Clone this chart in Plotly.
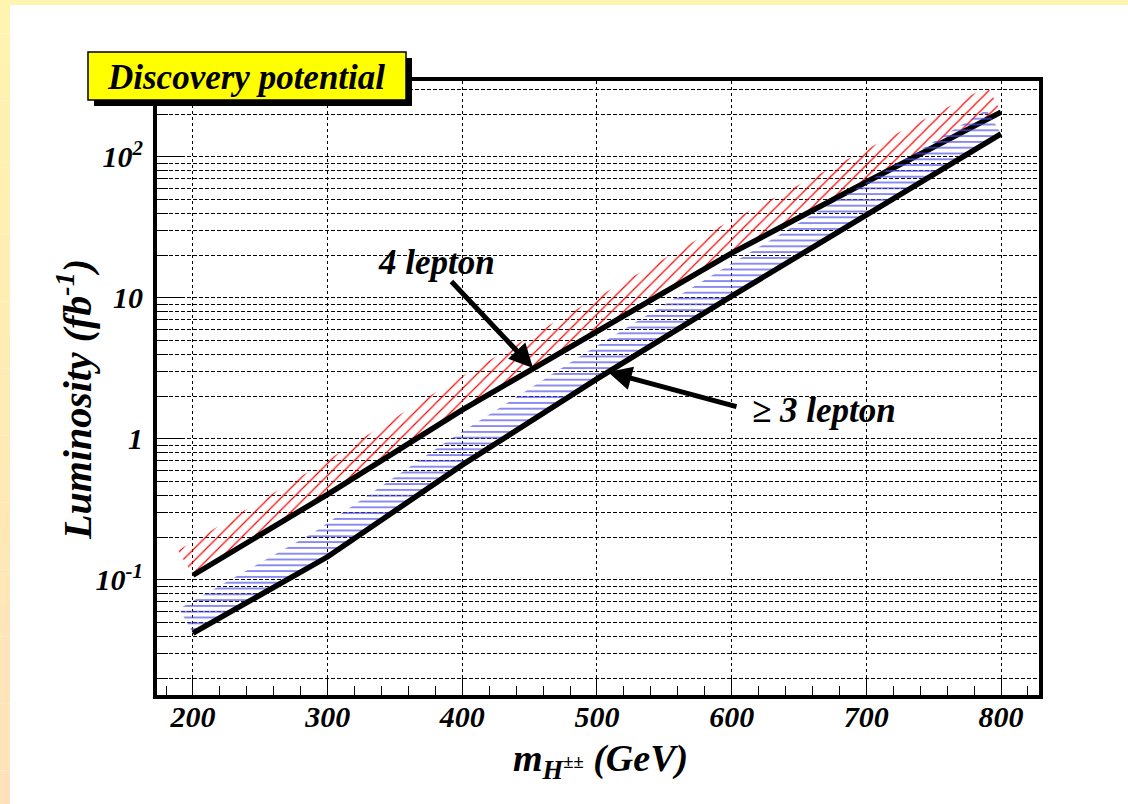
import numpy as np
import plotly.graph_objects as go

# ---------------- data ----------------
mass = [200, 300, 400, 500, 600, 700, 800]                 # m_H++ (GeV)
lumi_4lepton = [0.108, 0.405, 1.61, 5.84, 20.8, 66.5, 208]  # fb^-1
lumi_3lepton = [0.042, 0.146, 0.655, 2.67, 10.3, 38.8, 146]  # fb^-1

x_tickvals = [200, 300, 400, 500, 600, 700, 800]
y_tickvals = [0.1, 1, 10, 100]
y_ticktext = ["10<sup>-1</sup>", "1", "10", "10<sup>2</sup>"]

title_text = "Discovery potential"
label_4 = "4 lepton"
label_3 = "≥ 3 lepton"

# ---------------- layout geometry ----------------
W, H = 1128, 804
L, R, T, B = 157, 89, 81, 109
XR = [173.3, 828.2]
YR = [-1.816, 2.539]          # log10 range
PW, PH = W - L - R, H - T - B
SX = PW / (XR[1] - XR[0])     # px per GeV
SY = PH / (YR[1] - YR[0])     # px per decade

FONT = "Liberation Serif, Times New Roman, Times, serif"


def px2paper(px, py):
    return (px - L) / PW, (H - B - py) / PH


def hatch_band(xs, ys, width_px):
    """Polygon of a band of constant pixel width on the upper-left side of a curve."""
    P = np.stack([np.asarray(xs, float) * SX, np.log10(np.asarray(ys, float)) * SY], 1)
    d = np.diff(P, axis=0)
    d /= np.linalg.norm(d, axis=1, keepdims=True)
    nseg = np.stack([-d[:, 1], d[:, 0]], 1)
    normals = []
    n = len(P)
    for i in range(n):
        if i == 0:
            nn = nseg[0]
        elif i == n - 1:
            nn = nseg[-1]
        else:
            m = nseg[i - 1] + nseg[i]
            m /= np.linalg.norm(m)
            nn = m / np.dot(m, nseg[i])
        normals.append(nn)
    Q = P + width_px * np.array(normals)
    poly = np.vstack([P, Q[::-1], P[:1]])
    return poly[:, 0] / SX, 10 ** (poly[:, 1] / SY)


fig = go.Figure()

bx, by = hatch_band(mass, lumi_4lepton, 29)
fig.add_trace(go.Scatter(
    x=bx, y=by, mode="lines", fill="toself",
    line=dict(width=0, color="rgba(0,0,0,0)"),
    fillcolor="rgba(255,255,255,0)",
    fillpattern=dict(shape="/", fgcolor="#ff0000", bgcolor="rgba(255,255,255,0)",
                     size=8.5, solidity=0.14, fillmode="replace"),
    hoverinfo="skip", showlegend=False))
fig.add_trace(go.Scatter(x=mass, y=lumi_4lepton, mode="lines",
                         line=dict(color="black", width=5.5), showlegend=False))

bx, by = hatch_band(mass, lumi_3lepton, 28)
fig.add_trace(go.Scatter(
    x=bx, y=by, mode="lines", fill="toself",
    line=dict(width=0, color="rgba(0,0,0,0)"),
    fillcolor="rgba(255,255,255,0)",
    fillpattern=dict(shape="-", fgcolor="#4d4de8", bgcolor="rgba(255,255,255,0)",
                     size=5.8, solidity=0.22, fillmode="replace"),
    hoverinfo="skip", showlegend=False))
fig.add_trace(go.Scatter(x=mass, y=lumi_3lepton, mode="lines",
                         line=dict(color="black", width=5.5), showlegend=False))

minor_y = [k * 10.0 ** e for e in range(-2, 3) for k in range(2, 10)
           if YR[0] <= np.log10(k * 10.0 ** e) <= YR[1]]

tickfont = dict(family=FONT, size=30, color="black", weight="bold", style="italic")

fig.update_layout(
    width=W, height=H,
    margin=dict(l=L, r=R, t=T, b=B, pad=0),
    paper_bgcolor="white", plot_bgcolor="white",
    showlegend=False,
    xaxis=dict(range=XR, tickvals=x_tickvals, ticks="inside", ticklen=18, tickwidth=1.2,
               tickcolor="black", showline=True, linecolor="black", linewidth=4, mirror=True,
               showgrid=True, gridcolor="black", gridwidth=1, griddash="3px,3px",
               zeroline=False, tickfont=tickfont, ticklabelstandoff=-8,
               minor=dict(tick0=200, dtick=20, ticks="inside", ticklen=9, tickwidth=1.2,
                          tickcolor="black", showgrid=False)),
    yaxis=dict(type="log", range=YR, tickvals=y_tickvals, ticktext=y_ticktext,
               ticks="inside", ticklen=25, tickwidth=1.2, tickcolor="black",
               showline=True, linecolor="black", linewidth=4, mirror=True,
               showgrid=True, gridcolor="black", gridwidth=1, griddash="4px,2px",
               zeroline=False, tickfont=tickfont, ticklabelstandoff=4,
               minor=dict(tickvals=minor_y, ticks="inside", ticklen=11, tickwidth=1.2,
                          tickcolor="black", showgrid=True, gridcolor="black",
                          gridwidth=1, griddash="4px,2px")),
)

shapes = []
# pale yellow page border (top band + left gradient band)
top_col = (255, 244, 176)
bot_col = (255, 226, 186)
x0p, _ = px2paper(0, 0)
x10p, _ = px2paper(10, 0)
x1p, _ = px2paper(W, 0)
_, yt0 = px2paper(0, 0)
_, yt5 = px2paper(0, 5)
shapes.append(dict(type="rect", xref="paper", yref="paper", x0=x0p, x1=x1p, y0=yt5, y1=yt0,
                   line=dict(width=0), fillcolor="rgb(%d,%d,%d)" % top_col, layer="below"))
nstep = 24
for i in range(nstep):
    f = (i + 0.5) / nstep
    c = tuple(int(round(top_col[k] + (bot_col[k] - top_col[k]) * f)) for k in range(3))
    _, ya = px2paper(0, H * i / nstep)
    _, yb = px2paper(0, H * (i + 1) / nstep)
    shapes.append(dict(type="rect", xref="paper", yref="paper", x0=x0p, x1=x10p, y0=yb, y1=ya,
                       line=dict(width=0), fillcolor="rgb(%d,%d,%d)" % c, layer="below"))

# title box with shadow
sx0, sy0 = px2paper(94, 106)
sx1, sy1 = px2paper(412, 58)
shapes.append(dict(type="rect", xref="paper", yref="paper", x0=sx0, x1=sx1, y0=sy0, y1=sy1,
                   line=dict(width=0), fillcolor="black", layer="above"))
bx0, by0 = px2paper(88, 100)
bx1, by1 = px2paper(406, 52)
shapes.append(dict(type="rect", xref="paper", yref="paper", x0=bx0, x1=bx1, y0=by0, y1=by1,
                   line=dict(width=1.5, color="black"), fillcolor="#ffff00", layer="above"))
fig.update_layout(shapes=shapes)

ann = []
tx, ty = px2paper(246, 77)
ann.append(dict(xref="paper", yref="paper", x=tx, y=ty, text=title_text, showarrow=False,
                xanchor="center", yanchor="middle",
                font=dict(family=FONT, size=35, color="black", weight="bold", style="italic")))

labfont = dict(family=FONT, size=35, color="black", weight="bold", style="italic")
# 4 lepton
lx, ly = px2paper(436, 262)
ann.append(dict(xref="paper", yref="paper", x=lx, y=ly, text=label_4, showarrow=False,
                xanchor="center", yanchor="middle", font=labfont))
ax_, ay_ = px2paper(533, 368)
ann.append(dict(xref="paper", yref="paper", x=ax_, y=ay_, text="", showarrow=True,
                ax=450 - 533, ay=280 - 368, axref="pixel", ayref="pixel",
                arrowhead=2, arrowsize=0.95, arrowwidth=5, arrowcolor="black", standoff=0))
# >= 3 lepton
lx, ly = px2paper(750, 410)
ann.append(dict(xref="paper", yref="paper", x=lx, y=ly, text=label_3, showarrow=False,
                xanchor="left", yanchor="middle", font=labfont))
ax_, ay_ = px2paper(608, 372)
ann.append(dict(xref="paper", yref="paper", x=ax_, y=ay_, text="", showarrow=True,
                ax=738 - 608, ay=407 - 372, axref="pixel", ayref="pixel",
                arrowhead=2, arrowsize=0.95, arrowwidth=5, arrowcolor="black", standoff=0))

# axis titles
axfont = dict(family=FONT, size=40, color="black", weight="bold", style="italic")
yx, yy = px2paper(74, 400)
ann.append(dict(xref="paper", yref="paper", x=yx, y=yy,
                text="Luminosity (fb<sup>-1</sup>)", textangle=-90, showarrow=False,
                xanchor="center", yanchor="middle", font=axfont))
xx, xy = px2paper(600, 761)
ann.append(dict(xref="paper", yref="paper", x=xx, y=xy,
                text="m<sub>H<sup>±±</sup></sub> (GeV)", showarrow=False,
                xanchor="center", yanchor="middle",
                font=dict(family=FONT, size=38, color="black", weight="bold", style="italic")))
fig.update_layout(annotations=ann)

fig.write_html("out.html")
